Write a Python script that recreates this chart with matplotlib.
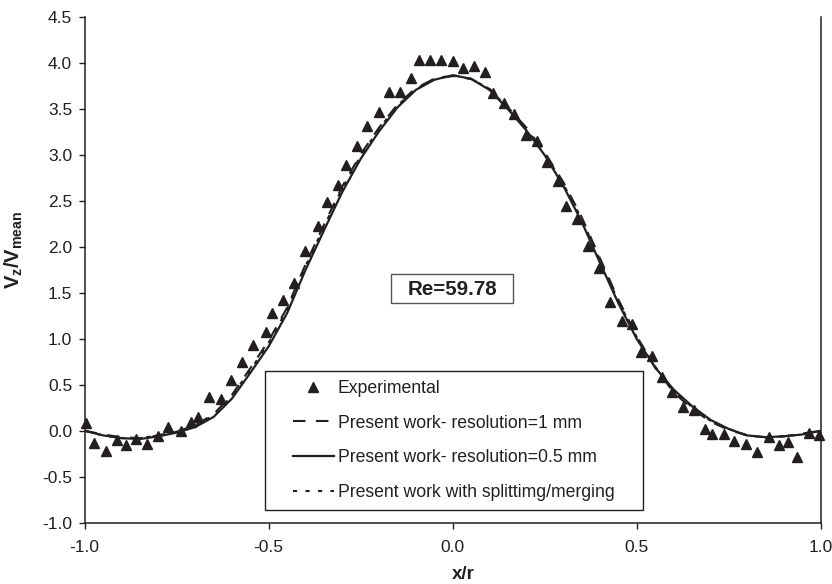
import matplotlib.pyplot as plt
from matplotlib.patches import Rectangle
from matplotlib.legend_handler import HandlerLine2D

plt.rcParams['font.family'] = ['Liberation Sans', 'DejaVu Sans']
plt.rcParams['mathtext.fontset'] = 'custom'
plt.rcParams['mathtext.rm'] = 'Liberation Sans'
plt.rcParams['mathtext.bf'] = 'Liberation Sans:bold'

# ---- experimental points ----
exp_x = [-0.997, -0.974, -0.943, -0.911, -0.889, -0.860, -0.830, -0.802, -0.773, -0.739,
         -0.711, -0.693, -0.662, -0.630, -0.602, -0.572, -0.542, -0.508, -0.492, -0.460,
         -0.430, -0.401, -0.367, -0.342, -0.312, -0.290, -0.261, -0.232, -0.200, -0.173,
         -0.143, -0.113, -0.091, -0.061, -0.031, 0.000, 0.027, 0.059, 0.089, 0.109,
         0.139, 0.167, 0.199, 0.228, 0.255, 0.285, 0.308, 0.337, 0.369, 0.398,
         0.427, 0.459, 0.488, 0.511, 0.541, 0.569, 0.597, 0.627, 0.657, 0.686,
         0.706, 0.738, 0.765, 0.796, 0.828, 0.860, 0.888, 0.912, 0.936, 0.968, 0.996]
exp_y = [0.09, -0.135, -0.216, -0.10, -0.16, -0.09, -0.14, -0.06, 0.04, 0.00,
         0.10, 0.15, 0.37, 0.35, 0.55, 0.75, 0.93, 1.07, 1.28, 1.42,
         1.61, 1.96, 2.23, 2.49, 2.67, 2.89, 3.10, 3.32, 3.47, 3.69,
         3.69, 3.84, 4.03, 4.03, 4.03, 4.02, 3.95, 3.97, 3.90, 3.68,
         3.57, 3.45, 3.22, 3.15, 2.93, 2.72, 2.45, 2.30, 2.01, 1.77,
         1.40, 1.20, 1.16, 0.86, 0.81, 0.58, 0.42, 0.26, 0.23, 0.02,
         -0.03, -0.03, -0.11, -0.14, -0.23, -0.07, -0.16, -0.12, -0.29, -0.02, -0.045]

# ---- simulated profiles ----
sim_x = [-1.00, -0.95, -0.90, -0.85, -0.80, -0.75, -0.70, -0.65, -0.60, -0.55,
         -0.50, -0.45, -0.40, -0.35, -0.30, -0.25, -0.20, -0.15, -0.10, -0.05,
         0.00, 0.05, 0.10, 0.15, 0.20, 0.25, 0.30, 0.35, 0.40, 0.45,
         0.50, 0.55, 0.60, 0.65, 0.70, 0.75, 0.80, 0.85, 0.90, 0.95, 1.00]
res_1mm = [0.00, -0.04, -0.07, -0.08, -0.05, -0.01, 0.06, 0.18, 0.39, 0.68,
           0.98, 1.34, 1.81, 2.24, 2.66, 3.01, 3.30, 3.55, 3.73, 3.83,
           3.86, 3.83, 3.72, 3.52, 3.30, 3.03, 2.71, 2.33, 1.88, 1.43,
           1.03, 0.69, 0.42, 0.24, 0.10, 0.01, -0.05, -0.07, -0.06, -0.03, 0.00]
res_05mm = [0.00, -0.05, -0.08, -0.09, -0.06, -0.02, 0.04, 0.15, 0.35, 0.63,
            0.92, 1.28, 1.75, 2.18, 2.60, 2.96, 3.26, 3.52, 3.71, 3.82,
            3.87, 3.83, 3.71, 3.50, 3.27, 3.00, 2.67, 2.28, 1.83, 1.39,
            1.00, 0.69, 0.45, 0.27, 0.12, 0.02, -0.05, -0.07, -0.06, -0.04, 0.00]
split_merge = [0.00, -0.05, -0.08, -0.08, -0.05, -0.01, 0.05, 0.17, 0.38, 0.66,
               0.96, 1.32, 1.79, 2.22, 2.64, 2.99, 3.29, 3.54, 3.72, 3.83,
               3.87, 3.83, 3.72, 3.51, 3.28, 3.02, 2.69, 2.31, 1.86, 1.41,
               1.02, 0.70, 0.44, 0.26, 0.11, 0.02, -0.05, -0.07, -0.06, -0.04, 0.00]

x_ticks = [-1.0, -0.5, 0.0, 0.5, 1.0]
y_ticks = [-1.0, -0.5, 0.0, 0.5, 1.0, 1.5, 2.0, 2.5, 3.0, 3.5, 4.0, 4.5]

ink = '#231f20'

fig = plt.figure(figsize=(8.32, 5.84), dpi=100)
ax = fig.add_axes([0.1018, 0.105, 0.8846, 0.8654])

l_dash, = ax.plot(sim_x, res_1mm, color=ink, lw=1.5, dashes=(6, 5),
                  label='Present work- resolution=1 mm', zorder=2)
l_solid, = ax.plot(sim_x, res_05mm, color=ink, lw=1.6,
                   label='Present work- resolution=0.5 mm', zorder=2)
l_dot, = ax.plot(sim_x, split_merge, color=ink, lw=1.5, dashes=(2, 4),
                 label='Present work with splittimg/merging', zorder=2)
l_exp, = ax.plot(exp_x, exp_y, ls='none', marker='^', ms=7, color=ink,
                 label='Experimental', zorder=3, clip_on=False)

ax.set_xlim(-1.0, 1.0)
ax.set_ylim(-1.0, 4.5)
ax.set_xticks(x_ticks)
ax.set_yticks(y_ticks)
ax.set_xticklabels(['%.1f' % v for v in x_ticks])
ax.set_yticklabels(['%.1f' % v for v in y_ticks])
ax.tick_params(axis='x', direction='out', length=4.5, width=1, pad=8,
               labelsize=12.5, colors=ink)
ax.tick_params(axis='y', direction='out', length=4.5, width=1, pad=4.5,
               labelsize=12.5, colors=ink)

ax.spines['top'].set_visible(False)
for s in ['left', 'bottom', 'right']:
    ax.spines[s].set_color(ink)
    ax.spines[s].set_linewidth(1.1)

ax.set_xlabel('x/r', fontsize=13.5, fontweight='bold', color=ink)
ax.xaxis.set_label_coords(0.514, -0.086)
ax.set_ylabel(r'$\mathbf{V_z/V_{mean}}$', fontsize=14.5, color=ink)
ax.yaxis.set_label_coords(-0.081, 0.54)

# Reynolds-number box
ax.add_patch(Rectangle((-0.168, 1.391), 0.332, 0.316, fill=False,
                       ec='#555555', lw=1.0, zorder=4))
ax.text(0.0, 1.535, 'Re=59.78', ha='center', va='center', fontsize=14.8,
        fontweight='bold', color=ink, zorder=5)

pad_handler = HandlerLine2D(xpad=1.07)
leg = ax.legend(handles=[l_exp, l_dash, l_solid, l_dot], loc='lower left',
                bbox_to_anchor=(0.245, 0.0251, 0.5136, 0.2711), mode='expand',
                fontsize=12.7, frameon=True, fancybox=False, framealpha=1,
                borderpad=0.52, labelspacing=1.0, handlelength=3.37,
                handletextpad=0.22, borderaxespad=0,
                handler_map={l_exp: pad_handler, l_dash: pad_handler,
                             l_solid: pad_handler, l_dot: pad_handler})
leg.get_frame().set_edgecolor(ink)
leg.get_frame().set_linewidth(1.0)
for t in leg.get_texts():
    t.set_color(ink)

fig.savefig('out.png', dpi=100)
